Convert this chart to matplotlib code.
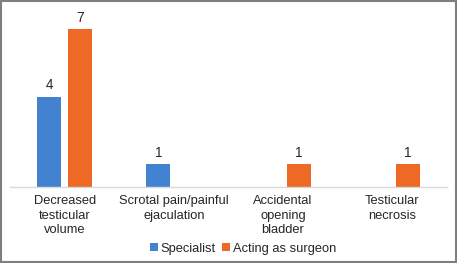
import matplotlib
matplotlib.use('Agg')
import matplotlib.pyplot as plt
import numpy as np
from matplotlib.patches import Rectangle

# 数据
categories = ['Decreased\ntesticular\nvolume', 'Scrotal pain/painful\nejaculation',
              'Accidental\nopening\nbladder', 'Testicular\nnecrosis']
specialist = [4, 1, 0, 0]
surgeon = [7, 0, 1, 1]
series_names = ['Specialist', 'Acting as surgeon']

blue = '#4382D0'
orange = '#EE6A24'

plt.rcParams['font.family'] = ['Liberation Sans', 'DejaVu Sans']
plt.rcParams['font.size'] = 9.3

fig = plt.figure(figsize=(4.57, 2.63), dpi=100)
ax = fig.add_axes([0.0219, 0.289, 0.956, 0.688])

x = np.arange(len(categories))
w = 0.22
off = 0.142
b1 = ax.bar(x - off, specialist, w, color=blue)
b2 = ax.bar(x + off, surgeon, w, color=orange)

# 数据标签，0 不显示
for bars, vals in ((b1, specialist), (b2, surgeon)):
    for bar, v in zip(bars, vals):
        if v > 0:
            ax.annotate(str(v), xy=(bar.get_x() + bar.get_width() / 2, v),
                        xytext=(0, 3), textcoords='offset points',
                        ha='center', va='bottom', color='#262626', fontsize=9.8)

ax.set_xlim(-0.5, len(categories) - 0.5)
ax.set_ylim(0, 8)
ax.set_yticks([])
ax.set_xticks(x)
ax.set_xticklabels(categories, linespacing=1.28, color='#262626')
ax.tick_params(axis='x', length=0, pad=6)
for s in ['top', 'right', 'left']:
    ax.spines[s].set_visible(False)
ax.spines['bottom'].set_color('#D9D9D9')
ax.spines['bottom'].set_linewidth(1.0)

fig.legend([b1, b2], series_names, loc='center', bbox_to_anchor=(0.532, 0.054),
           ncol=2, frameon=False, handlelength=0.6, handleheight=0.6,
           handletextpad=0.2, columnspacing=0.5, fontsize=9.3, labelcolor='#262626')

# 外边框
fig.patches.append(Rectangle((0.002, 0.003), 0.996, 0.994, transform=fig.transFigure,
                             fill=False, edgecolor='#7F7F7F', linewidth=1.5))

fig.savefig('out.png', dpi=100)
